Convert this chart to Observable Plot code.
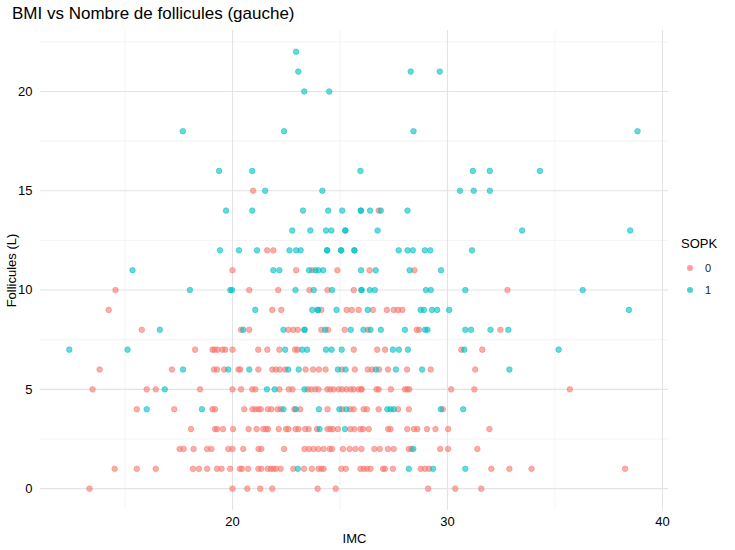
<!DOCTYPE html>
<html>
<head>
<meta charset="utf-8">
<script src="https://cdn.jsdelivr.net/npm/d3@7"></script>
<script src="https://cdn.jsdelivr.net/npm/@observablehq/plot@0.6"></script>
<style>
  body { margin: 0; background: white; font-family: "Liberation Sans", Arial, sans-serif; }
  #wrap { position: relative; width: 735px; height: 550px; }
  #title { position: absolute; left: 12px; top: 4px; font-size: 17px; color: #000; }
  #legend { position: absolute; left: 681px; top: 236px; font-size: 13px; color: #000; }
  #legend .item { display: flex; align-items: center; font-size: 11px; color: #222; height: 22px; }
  #legend .dot { width: 6px; height: 6px; border-radius: 50%; margin: 0 12px 0 6px; }
</style>
</head>
<body>
<div id="wrap">
  <div id="chart"></div>
  <div id="title">BMI vs Nombre de follicules (gauche)</div>
  <div id="legend">
    <div style="margin-bottom:6px">SOPK</div>
    <div class="item"><span class="dot" style="background:#F8766D;opacity:.7"></span>0</div>
    <div class="item"><span class="dot" style="background:#00BFC4;opacity:.7"></span>1</div>
  </div>
</div>
<script>
// SOPK = 0 : [IMC, follicules]
const sopk0 = [
  [20.96,15],[21.61,12],[21.9,12],[20,11],[22.96,11],[23.7,11],[24.88,11],[26.38,11],[28.46,11],[26.8,14],
  [14.56,10],[20.78,10],[22.13,10],[23.58,10],[24.42,10],[25.64,10],[32.79,10],
  [14.24,9],[21.85,9],[22.27,9],[24.13,9],[25.31,9],[25.55,9],[25.87,9],[26.53,9],[27.18,9],[27.5,9],[27.7,9],[27.9,9],
  [15.78,8],[20.4,8],[20.78,8],[22.6,8],[22.83,8],[23.04,8],[24.13,8],[24.44,8],[25.22,8],[26.29,8],[28.57,8],[28.68,8],[32.46,8],
  [18.26,7],[19.07,7],[19.17,7],[19.3,7],[19.53,7],[19.66,7],[20,7],[21.2,7],[21.62,7],[22.18,7],[22.91,7],[23.02,7],[25.64,7],[26.73,7],[27.1,7],[30.64,7],[31.62,7],
  [13.82,6],[17.18,6],[19.14,6],[19.28,6],[19.61,6],[20.28,6],[20.36,6],[21.2,6],[21.85,6],[22.02,6],[22.2,6],[22.45,6],[23.4,6],[23.75,6],[24.02,6],[24.33,6],[25.08,6],[25.69,6],[26.29,6],[26.48,6],[26.82,6],[27.23,6],[28.12,6],[29.22,6],[31.29,6],
  [13.49,5],[16.01,5],[16.43,5],[18.49,5],[20,5],[20.4,5],[20.92,5],[21.06,5],[22.18,5],[22.62,5],[22.79,5],[23.5,5],[23.66,5],[23.86,5],[24,5],[24.41,5],[24.55,5],[24.7,5],[24.94,5],[25.1,5],[25.3,5],[25.5,5],[25.64,5],[25.87,5],[26,5],[26,5],[26.7,5],[26.8,5],[27.37,5],[28.02,5],[28.13,5],[28.22,5],[30.17,5],[31.25,5],[35.69,5],
  [15.55,4],[17.29,4],[19.07,4],[19.19,4],[20.55,4],[20.93,4],[21.07,4],[21.21,4],[21.32,4],[21.65,4],[21.81,4],[22.1,4],[22.24,4],[22.88,4],[23.15,4],[24.42,4],[25.1,4],[25.48,4],[25.64,4],[26.1,4],[26.25,4],[26.8,4],[27.7,4],[28.2,4],[29.78,4],
  [18.07,3],[19.19,3],[19.28,3],[19.56,3],[20.03,3],[20.75,3],[21.12,3],[21.43,3],[21.56,3],[21.65,3],[22.15,3],[22.49,3],[22.6,3],[22.94,3],[23.07,3],[23.38,3],[23.54,3],[23.93,3],[24.42,3],[24.55,3],[24.67,3],[24.9,3],[25.48,3],[25.67,3],[25.95,3],[26.07,3],[26.34,3],[27.24,3],[27.35,3],[28.13,3],[28.44,3],[28.6,3],[29.05,3],[29.44,3],[30.03,3],[31.95,3],
  [17.54,2],[17.73,2],[18.19,2],[18.82,2],[19.02,2],[19.81,2],[20,2],[20.5,2],[21.21,2],[21.34,2],[22.4,2],[23.35,2],[23.55,2],[23.77,2],[23.99,2],[24.24,2],[24.52,2],[24.63,2],[25.14,2],[25.45,2],[25.72,2],[26,2],[26.6,2],[26.85,2],[27.23,2],[27.5,2],[28.2,2],[28.32,2],[29.66,2],[30.03,2],[31.39,2],
  [14.52,1],[15.55,1],[16.43,1],[18.16,1],[18.44,1],[18.82,1],[19.28,1],[19.49,1],[19.89,1],[20.34,1],[20.44,1],[20.73,1],[21.2,1],[21.34,1],[21.64,1],[21.78,1],[21.9,1],[22.02,1],[22.24,1],[22.83,1],[23.33,1],[23.69,1],[24,1],[24.13,1],[24.24,1],[25.06,1],[25.27,1],[25.95,1],[26.1,1],[26.26,1],[26.42,1],[27,1],[27.09,1],[27.46,1],[28.75,1],[28.96,1],[29.14,1],[32.04,1],[32.88,1],[33.91,1],[38.26,1],
  [13.35,0],[20,0],[20.69,0],[21.29,0],[21.85,0],[23.96,0],[24.8,0],[29.1,0],[30.36,0],[31.57,0]
];
// SOPK = 1 : [IMC, follicules]
const sopk1 = [
  [22.96,22],[23.06,21],[28.29,21],[29.64,21],[23.34,20],[24.5,20],
  [17.69,18],[22.4,18],[28.42,18],[38.84,18],
  [19.38,16],[20.92,16],[25.95,16],[31.18,16],[31.97,16],[34.3,16],
  [21.52,15],[24.18,15],[30.58,15],[31.22,15],[31.97,15],
  [19.7,14],[20.92,14],[23.28,14],[24.45,14],[25.1,14],[25.97,14],[25.97,14],[26.4,14],[26.9,14],[28.14,14],
  [22.78,13],[23.62,13],[24.35,13],[24.6,13],[25.25,13],[25.25,13],[26.75,13],[33.47,13],[38.5,13],
  [19.42,12],[20.3,12],[21.14,12],[22.65,12],[22.96,12],[23.17,12],[24.4,12],[24.4,12],[25.05,12],[25.05,12],[25.67,12],[25.67,12],[27.73,12],[28.14,12],[28.39,12],[28.95,12],[29.2,12],[31.14,12],
  [15.35,11],[21.9,11],[22.18,11],[23.56,11],[23.86,11],[24,11],[24.22,11],[25.98,11],[26.66,11],[28.24,11],[29.7,11],
  [18.02,10],[19.9,10],[19.98,10],[22.93,10],[23.78,10],[24.63,10],[26,10],[26,10],[26.39,10],[26.62,10],[29,10],[29.22,10],[30.83,10],[36.29,10],
  [21.06,9],[23.71,9],[23.97,9],[23.97,9],[24.84,9],[26.29,9],[28.75,9],[28.9,9],[29.28,9],[29.52,9],[30.08,9],[38.44,9],
  [16.62,8],[20.5,8],[22.37,8],[23.35,8],[23.35,8],[24.31,8],[25.5,8],[26.09,8],[26.42,8],[26.9,8],[28.02,8],[28.96,8],[29.07,8],[30.83,8],[31.1,8],[32,8],[32.83,8],
  [12.41,7],[15.12,7],[22.45,7],[23.24,7],[23.47,7],[24.35,7],[24.61,7],[25.08,7],[27.46,7],[27.74,7],[28.16,7],[30.78,7],[35.17,7],
  [17.7,6],[19.8,6],[20.78,6],[22.59,6],[23.08,6],[24.9,6],[25.26,6],[26.67,6],[27.6,6],[28.82,6],[32.88,6],
  [16.85,5],[21.6,5],[21.96,5],[23.35,5],
  [16.01,4],[18.58,4],[22.37,4],[22.94,4],[24.02,4],[24.97,4],[25.3,4],[27.2,4],[27.35,4],[27.5,4],[29.69,4],[30.73,4],
  [24.05,3],[25.23,3],[28.41,2],
  [23.04,1],[28.2,1],[29.33,1],[30.83,1]
];
const xMajor = [20, 30, 40];
const xMinor = [15, 25, 35];
const yMajor = [0, 5, 10, 15, 20];
const yMinor = [2.5, 7.5, 12.5, 17.5, 22.5];

const data = [
  ...sopk0.map(([imc, f]) => ({imc, f, sopk: "0"})),
  ...sopk1.map(([imc, f]) => ({imc, f, sopk: "1"}))
];

const chart = Plot.plot({
  width: 670,
  height: 550,
  marginTop: 30,
  marginBottom: 40,
  marginLeft: 40,
  marginRight: 2,
  style: {fontFamily: "Liberation Sans, Arial, sans-serif", fontSize: "11px", color: "#4d4d4d"},
  x: {domain: [11.07, 40.28], label: null},
  y: {domain: [-1.1, 23.07], label: null},
  color: {domain: ["0", "1"], range: ["#F8766D", "#00BFC4"]},
  marks: [
    Plot.ruleX(xMinor, {stroke: "#ebebeb", strokeWidth: 0.6}),
    Plot.ruleY(yMinor, {stroke: "#ebebeb", strokeWidth: 0.6}),
    Plot.ruleX(xMajor, {stroke: "#e3e3e3", strokeWidth: 1.1}),
    Plot.ruleY(yMajor, {stroke: "#e3e3e3", strokeWidth: 1.1}),
    Plot.axisX({ticks: xMajor, tickSize: 0, tickPadding: 6, fill: "#4d4d4d", label: "IMC", labelAnchor: "center", labelOffset: 32, labelArrow: "none"}),
    Plot.axisY({ticks: yMajor, tickSize: 0, tickPadding: 8, fill: "#4d4d4d", label: "Follicules (L)", labelAnchor: "center", labelOffset: 34, labelArrow: "none"}),
    Plot.dot(data, {x: "imc", y: "f", r: 2.8, fill: "sopk", fillOpacity: 0.6, stroke: "sopk", strokeOpacity: 0.8, strokeWidth: 0.6})
  ]
});
d3.select(chart).selectAll("[aria-label$='label'] text, g[aria-label='x-axis label'] text, g[aria-label='y-axis label'] text")
  .attr("fill", "#000").style("font-size", "13px");
d3.select("#chart").append(() => chart);
</script>
</body>
</html>
